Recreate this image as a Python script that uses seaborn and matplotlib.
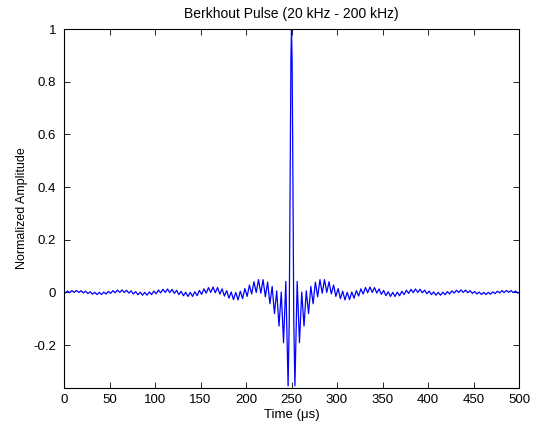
import numpy as np
import pandas as pd
import matplotlib
matplotlib.use("Agg")
import matplotlib.pyplot as plt
import seaborn as sns

# ---- data (time in microseconds, normalized amplitude) ----
time_left = [0.0,
    1.25, 3.75, 6.25, 8.75, 11.25, 13.75, 16.25, 18.75, 21.25, 23.75,
    26.25, 28.75, 31.25, 33.75, 36.25, 38.75, 41.25, 43.75, 46.25, 48.75,
    51.25, 53.75, 56.25, 58.75, 61.25, 63.75, 66.25, 68.75, 71.25, 73.75,
    76.25, 78.75, 81.25, 83.75, 86.25, 88.75, 91.25, 93.75, 96.25, 98.75,
    101.25, 103.75, 106.25, 108.75, 111.25, 113.75, 116.25, 118.75, 121.25, 123.75,
    126.25, 128.75, 131.25, 133.75, 136.25, 138.75, 141.25, 143.75, 146.25, 148.75,
    151.25, 153.75, 156.25, 158.75, 161.25, 163.75, 166.25, 168.75, 171.25, 173.75,
    176.25, 178.75, 181.25, 183.75, 186.25, 188.75, 191.25, 193.75, 196.25, 198.75,
    201.25, 203.75, 206.25, 208.75, 211.25, 213.75, 216.25, 218.75, 221.25, 223.75,
    226.25, 228.75, 231.25, 233.75, 236.25, 238.75, 241.25, 243.75, 246.25]
amp_left = [0.0,
    -0.0030, 0.0052, -0.0011, 0.0069, 0.0000, 0.0074, -0.0004, 0.0065, -0.0021, 0.0045,
    -0.0046, 0.0022, -0.0069, 0.0004, -0.0082, 0.0001, -0.0080, 0.0013, -0.0063, 0.0037,
    -0.0038, 0.0066, -0.0013, 0.0087, -0.0001, 0.0094, -0.0005, 0.0083, -0.0027, 0.0058,
    -0.0059, 0.0028, -0.0089, 0.0006, -0.0107, 0.0001, -0.0105, 0.0017, -0.0084, 0.0049,
    -0.0050, 0.0088, -0.0018, 0.0118, -0.0001, 0.0129, -0.0007, 0.0115, -0.0037, 0.0081,
    -0.0083, 0.0040, -0.0127, 0.0008, -0.0155, 0.0001, -0.0154, 0.0024, -0.0124, 0.0074,
    -0.0076, 0.0134, -0.0028, 0.0183, -0.0001, 0.0204, -0.0012, 0.0186, -0.0061, 0.0134,
    -0.0139, 0.0068, -0.0220, 0.0015, -0.0276, 0.0002, -0.0285, 0.0046, -0.0239, 0.0146,
    -0.0153, 0.0278, -0.0059, 0.0405, -0.0003, 0.0485, -0.0029, 0.0483, -0.0168, 0.0390,
    -0.0431, 0.0227, -0.0805, 0.0059, -0.1278, 0.0010, -0.1911, 0.0414, -0.355]

time_center = [247.5, 248.75, 249.375, 250.0, 250.625, 251.25, 252.5]
amp_center = [-0.109, 0.597, 0.889, 1.0, 0.889, 0.597, -0.109]

time_right = [
    253.75, 256.25, 258.75, 261.25, 263.75, 266.25, 268.75, 271.25, 273.75,
    276.25, 278.75, 281.25, 283.75, 286.25, 288.75, 291.25, 293.75, 296.25, 298.75,
    301.25, 303.75, 306.25, 308.75, 311.25, 313.75, 316.25, 318.75, 321.25, 323.75,
    326.25, 328.75, 331.25, 333.75, 336.25, 338.75, 341.25, 343.75, 346.25, 348.75,
    351.25, 353.75, 356.25, 358.75, 361.25, 363.75, 366.25, 368.75, 371.25, 373.75,
    376.25, 378.75, 381.25, 383.75, 386.25, 388.75, 391.25, 393.75, 396.25, 398.75,
    401.25, 403.75, 406.25, 408.75, 411.25, 413.75, 416.25, 418.75, 421.25, 423.75,
    426.25, 428.75, 431.25, 433.75, 436.25, 438.75, 441.25, 443.75, 446.25, 448.75,
    451.25, 453.75, 456.25, 458.75, 461.25, 463.75, 466.25, 468.75, 471.25, 473.75,
    476.25, 478.75, 481.25, 483.75, 486.25, 488.75, 491.25, 493.75, 496.25, 498.75,
    500.0]
amp_right = [
    -0.355, 0.0414, -0.1911, 0.0010, -0.1278, 0.0059, -0.0805, 0.0227, -0.0431,
    0.0390, -0.0168, 0.0483, -0.0029, 0.0485, -0.0003, 0.0405, -0.0059, 0.0278, -0.0153,
    0.0146, -0.0239, 0.0046, -0.0285, 0.0002, -0.0276, 0.0015, -0.0220, 0.0068, -0.0139,
    0.0134, -0.0061, 0.0186, -0.0012, 0.0204, -0.0001, 0.0183, -0.0028, 0.0134, -0.0076,
    0.0074, -0.0124, 0.0024, -0.0154, 0.0001, -0.0155, 0.0008, -0.0127, 0.0040, -0.0083,
    0.0081, -0.0037, 0.0115, -0.0007, 0.0129, -0.0001, 0.0118, -0.0018, 0.0088, -0.0050,
    0.0049, -0.0084, 0.0017, -0.0105, 0.0001, -0.0107, 0.0006, -0.0089, 0.0028, -0.0059,
    0.0058, -0.0027, 0.0083, -0.0005, 0.0094, -0.0001, 0.0087, -0.0013, 0.0066, -0.0038,
    0.0037, -0.0063, 0.0013, -0.0080, 0.0001, -0.0082, 0.0004, -0.0069, 0.0022, -0.0046,
    0.0045, -0.0021, 0.0065, -0.0004, 0.0074, 0.0000, 0.0069, -0.0011, 0.0052, -0.0030,
    0.0]

x_ticks = [0, 50, 100, 150, 200, 250, 300, 350, 400, 450, 500]
y_ticks = [-0.2, 0, 0.2, 0.4, 0.6, 0.8, 1]
y_tick_labels = ["-0.2", "0", "0.2", "0.4", "0.6", "0.8", "1"]

df = pd.DataFrame({
    "time": time_left + time_center + time_right,
    "amp": amp_left + amp_center + amp_right,
})

# ---- style ----
sns.set_theme(style="white")
plt.rcParams["font.family"] = ["Liberation Sans", "DejaVu Sans"]
plt.rcParams["axes.unicode_minus"] = False

fig = plt.figure(figsize=(5.36, 4.28), dpi=100, facecolor="white")
ax = fig.add_axes([64 / 536, 1 - 388 / 428, (519 - 64) / 536, (388 - 29) / 428])

sns.lineplot(data=df, x="time", y="amp", color="#0000ff", linewidth=0.9,
             ax=ax, sort=False, estimator=None)

ax.set_xlim(0, 500)
ax.set_ylim(-0.363, 1.0)
ax.set_xticks(x_ticks)
ax.set_xticklabels([str(v) for v in x_ticks])
ax.set_yticks(y_ticks)
ax.set_yticklabels(y_tick_labels)

ax.tick_params(axis="both", which="both", direction="in", length=4, width=0.6,
               color="black", labelsize=9.5, labelcolor="black",
               top=True, right=True, bottom=True, left=True)
ax.tick_params(axis="x", pad=4.5)
ax.tick_params(axis="y", pad=5.5)
for s in ax.spines.values():
    s.set_color("black")
    s.set_linewidth(0.8)

ax.set_title("Berkhout Pulse (20 kHz - 200 kHz)", fontsize=10, pad=8, color="black")
ax.set_xlabel("Time (μs)", fontsize=9.5, color="black", labelpad=2)
ax.set_ylabel("Normalized Amplitude", fontsize=9, color="black", labelpad=4)
ax.grid(False)

fig.savefig("out.png", dpi=100, facecolor="white")
